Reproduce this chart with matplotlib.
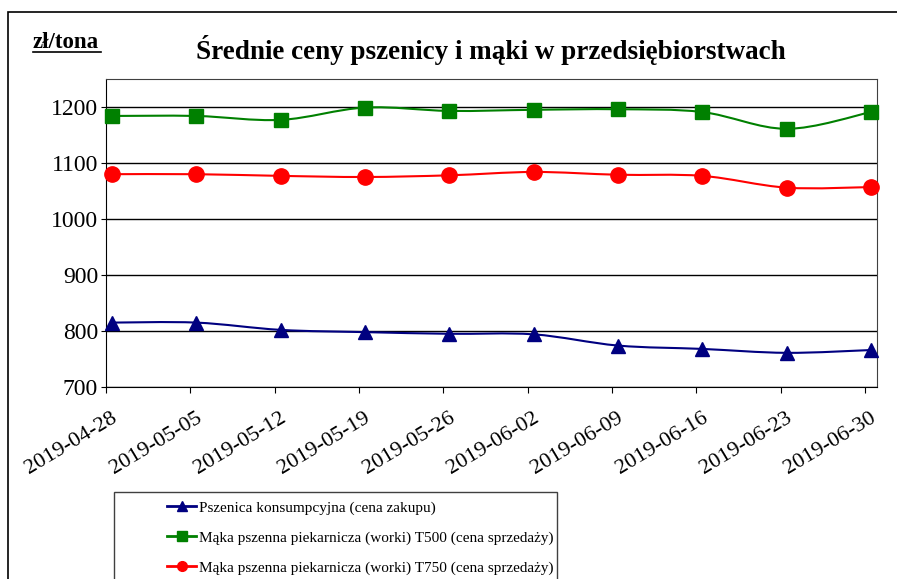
import numpy as np
import matplotlib.pyplot as plt
import matplotlib.transforms as mtransforms
from matplotlib.path import Path
from matplotlib.patches import PathPatch, Rectangle
from matplotlib.lines import Line2D

plt.rcParams['font.family'] = ['Liberation Serif', 'DejaVu Serif']

dates = ["2019-04-28", "2019-05-05", "2019-05-12", "2019-05-19", "2019-05-26",
         "2019-06-02", "2019-06-09", "2019-06-16", "2019-06-23", "2019-06-30"]
days = [0, 7, 14, 21, 28, 35, 42, 49, 56, 63]

pszenica = [815, 815, 802, 798, 795, 794, 774, 768, 761, 766]
maka_t500 = [1184, 1184, 1177, 1199, 1193, 1195, 1196, 1191, 1161, 1191]
maka_t750 = [1080, 1080, 1077, 1075, 1078, 1084, 1079, 1077, 1056, 1057]

labels = ["Pszenica konsumpcyjna (cena zakupu)",
          "Mąka pszenna piekarnicza (worki) T500 (cena sprzedaży)",
          "Mąka pszenna piekarnicza (worki) T750 (cena sprzedaży)"]


def smooth_path(x, y):
    # bezier curve through the points, like excel smoothed lines
    p = np.column_stack([x, y]).astype(float)
    verts = [p[0]]
    codes = [Path.MOVETO]
    n = len(p)
    for i in range(n - 1):
        p0 = p[i - 1] if i > 0 else p[i]
        p3 = p[i + 2] if i + 2 < n else p[i + 1]
        c1 = p[i] + (p[i + 1] - p0) / 6
        c2 = p[i + 1] - (p3 - p[i]) / 6
        verts += [c1, c2, p[i + 1]]
        codes += [Path.CURVE4] * 3
    return Path(verts, codes)


W, H = 897, 579
fig = plt.figure(figsize=(W / 100, H / 100), dpi=100)

# outer chart frame (cut off at right and bottom)
fig.patches.append(Rectangle((8 / W, -0.1), 1.2, 1 - 12 / H + 0.1, transform=fig.transFigure,
                             fill=False, edgecolor='black', lw=1.2))

ax = fig.add_axes([106 / W, 1 - 387 / H, 771 / W, (387 - 79) / H])

x = np.array(days) + 0.5
series = [(pszenica, '#000080', '^', 10), (maka_t500, '#008000', 's', 9.5), (maka_t750, '#FF0000', 'o', 11)]
handles = []
for (vals, col, mk, ms), lab in zip(series, labels):
    ax.add_patch(PathPatch(smooth_path(x, vals), fill=False, edgecolor=col, lw=1.5, zorder=3))
    ax.plot(x, vals, ls='none', marker=mk, ms=ms, color=col, zorder=4, clip_on=False)
    handles.append(Line2D([], [], color=col, lw=2, marker=mk, ms=7))

ax.set_xlim(0, 64)
ax.set_ylim(700, 1250)
ax.set_yticks([700, 800, 900, 1000, 1100, 1200])
ax.set_xticks(days)
ax.set_xticklabels(dates, rotation=31, ha='right', va='center', rotation_mode='anchor')
ax.tick_params(axis='x', length=4.3, pad=17, labelsize=16)
ax.tick_params(axis='y', length=3.6, pad=2, labelsize=17)
offset = mtransforms.ScaledTranslation(10 / 100, 0, fig.dpi_scale_trans)
for lbl in ax.get_xticklabels():
    lbl.set_transform(lbl.get_transform() + offset)
ax.grid(axis='y', color='black', lw=1)
ax.set_axisbelow(True)
for s in ['top', 'right']:
    ax.spines[s].set_color('#404040')
for s in ['left', 'bottom']:
    ax.spines[s].set_color('black')

fig.text(491 / W, 1 - 50 / H, "Średnie ceny pszenicy i mąki w przedsiębiorstwach",
         ha='center', va='center', fontsize=19.5, fontweight='bold')
fig.text(33 / W, 1 - 42 / H, "zł/tona", ha='left', va='center', fontsize=16.5, fontweight='bold')
fig.lines.append(Line2D([33 / W, 101 / W], [1 - 52 / H, 1 - 52 / H], transform=fig.transFigure,
                        color='black', lw=1.2))

# legend box (cut off at bottom)
fig.patches.append(Rectangle((114 / W, -0.1), (557 - 114) / W, 1 - 492 / H + 0.1,
                             transform=fig.transFigure, fill=False, edgecolor='#404040', lw=1))
fig.legend(handles, labels, loc='upper left', bbox_to_anchor=(161 / W, 1 - 495 / H),
           frameon=False, fontsize=11, handlelength=1.9, handletextpad=0.2, labelspacing=1.05,
           borderaxespad=0)

fig.savefig("out.png", dpi=100)
